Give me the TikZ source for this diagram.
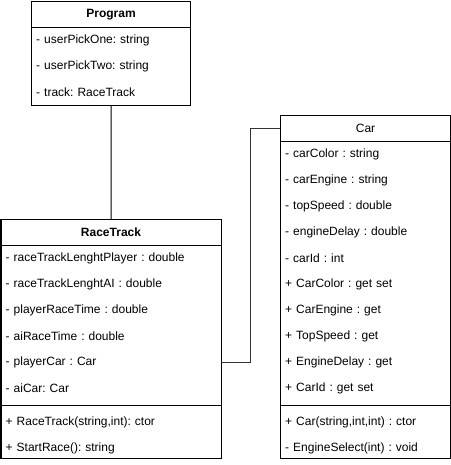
\documentclass[tikz,border=0pt]{standalone}
\usepackage{fontspec}
\setmainfont{Liberation Sans}
\frenchspacing
\begin{document}
\begin{tikzpicture}[x=1bp,y=-1bp,
  every node/.style={font=\fontsize{12bp}{14bp}\selectfont\frenchspacing},
  box/.style={draw, line width=1bp, inner sep=0, anchor=north west},
  hdr/.style={draw, line width=1bp, inner sep=0, minimum height=26bp, anchor=north west},
  row/.style={inner xsep=5bp, inner ysep=0, minimum height=26bp, align=left, anchor=north west},
  sep/.style={line width=1bp},
  link/.style={line width=1bp, draw=black!80}]
\useasboundingbox (0,0) rectangle (451,465);

% Program
\node[box, minimum width=159bp, minimum height=104bp] (prog) at (31,1) {};
\node[hdr, minimum width=159bp, font=\fontsize{12bp}{14bp}\selectfont\bfseries] (proghdr) at (31,1) {Program};
\node[row, text width=149bp] (pr1) at (31,27) {- userPickOne: string};
\node[row, text width=149bp] (pr2) at (31,53) {- userPickTwo: string};
\node[row, text width=149bp] (pr3) at (31,79) {- track: RaceTrack};

% RaceTrack
\node[box, minimum width=220bp, minimum height=239bp] (rt) at (0.5,219) {};
\node[hdr, minimum width=220bp, font=\fontsize{12bp}{14bp}\selectfont\bfseries] (rthdr) at (0.5,219) {RaceTrack};
\node[row, text width=210bp] (rtr1) at (0.5,245) {- raceTrackLenghtPlayer : double};
\node[row, text width=210bp] (rtr2) at (0.5,271) {- raceTrackLenghtAI : double};
\node[row, text width=210bp] (rtr3) at (0.5,297) {- playerRaceTime : double};
\node[row, text width=210bp] (rtr4) at (0.5,323) {- aiRaceTime : double};
\node[row, text width=210bp] (rtr5) at (0.5,349) {- playerCar : Car};
\node[row, text width=210bp] (rtr6) at (0.5,375) {- aiCar: Car};
\coordinate (rtsepl) at (0.5,405);
\coordinate (rtsepr) at (220.5,405);
\draw[sep] (rtsepl) -- (rtsepr);
\node[row, text width=210bp] (rtm1) at (0.5,409) {+ RaceTrack(string,int): ctor};
\node[row, text width=210bp] (rtm2) at (0.5,435) {+ StartRace(): string};

% Car
\node[box, minimum width=170bp, minimum height=343bp] (car) at (280,115) {};
\node[hdr, minimum width=170bp] (carhdr) at (280,115) {Car};
\node[row, text width=160bp] (cr1) at (280,141) {- carColor : string};
\node[row, text width=160bp] (cr2) at (280,167) {- carEngine : string};
\node[row, text width=160bp] (cr3) at (280,193) {- topSpeed : double};
\node[row, text width=160bp] (cr4) at (280,219) {- engineDelay : double};
\node[row, text width=160bp] (cr5) at (280,245) {- carId : int};
\node[row, text width=160bp] (cr6) at (280,271) {+ CarColor : get set};
\node[row, text width=160bp] (cr7) at (280,297) {+ CarEngine : get};
\node[row, text width=160bp] (cr8) at (280,323) {+ TopSpeed : get};
\node[row, text width=160bp] (cr9) at (280,349) {+ EngineDelay : get};
\node[row, text width=160bp] (cr10) at (280,375) {+ CarId : get set};
\coordinate (carsepl) at (280,405);
\coordinate (carsepr) at (450,405);
\draw[sep] (carsepl) -- (carsepr);
\node[row, text width=160bp] (cm1) at (280,409) {+ Car(string,int,int) : ctor};
\node[row, text width=160bp] (cm2) at (280,435) {- EngineSelect(int) : void};

% Connectors
\draw[line width=1bp] (prog.south) -- (rt.north);
\draw[link] (carhdr.west) -- ++(-30,0) |- (rtr5.east);
\end{tikzpicture}
\end{document}
